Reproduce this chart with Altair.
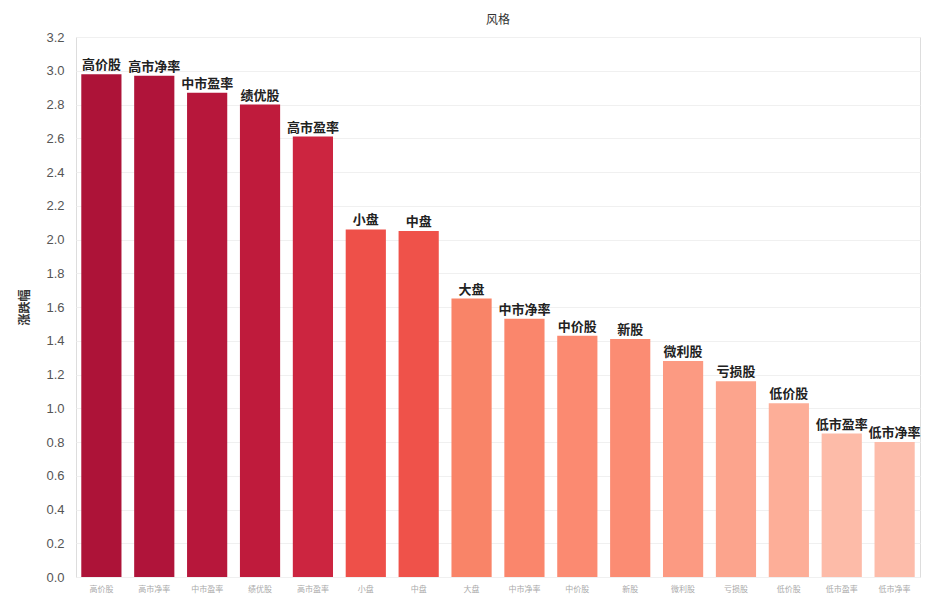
import pandas as pd
import altair as alt

categories = ["高价股", "高市净率", "中市盈率", "绩优股", "高市盈率", "小盘", "中盘", "大盘",
              "中市净率", "中价股", "新股", "微利股", "亏损股", "低价股", "低市盈率", "低市净率"]
values = [2.98, 2.97, 2.87, 2.80, 2.61, 2.06, 2.05, 1.65, 1.53, 1.43, 1.41, 1.28, 1.16, 1.03, 0.85, 0.80]
colors = ["#ad1338", "#b0143a", "#b7173b", "#bf1b3c", "#cc2540", "#ee5049", "#ef524a", "#f98468",
          "#fa866c", "#fb8a71", "#fb8c73", "#fc9a82", "#fca48d", "#fdae98", "#fdbba8", "#fdbcaa"]

df = pd.DataFrame({"风格": categories, "涨跌幅": values})
font = "Noto Sans CJK SC"

base = alt.Chart(df).encode(
    x=alt.X("风格:N", sort=categories,
            scale=alt.Scale(paddingInner=0.24, paddingOuter=0.1),
            axis=alt.Axis(title=None, labelAngle=0, labelFontSize=8, labelColor="#aaaaaa",
                          labelFont=font, domain=False, ticks=False, labelPadding=8)),
    y=alt.Y("涨跌幅:Q", scale=alt.Scale(domain=[0, 3.2]),
            axis=alt.Axis(title="涨跌幅", values=[i / 5 for i in range(17)], format=".1f",
                          labelFontSize=13, labelColor="#555555", titleFont=font,
                          titleFontSize=12, titleColor="#333333", domain=False, ticks=False,
                          gridColor="#f0f0f0", labelPadding=12, titlePadding=14)),
)

bars = base.mark_bar().encode(
    color=alt.Color("风格:N", sort=categories, legend=None,
                    scale=alt.Scale(domain=categories, range=colors))
)
labels = base.mark_text(dy=-9, fontSize=13, fontWeight="bold", font=font, color="#222222").encode(
    text="风格:N"
)

chart = (bars + labels).properties(
    width=844, height=540,
    title=alt.TitleParams("风格", font=font, fontSize=12, fontWeight="normal", color="#333333")
).configure_view(stroke=None).configure(padding={"left": 10, "top": 6, "right": 2, "bottom": 2})

chart.save("out.html", embed_options={"renderer": "svg", "actions": False})
